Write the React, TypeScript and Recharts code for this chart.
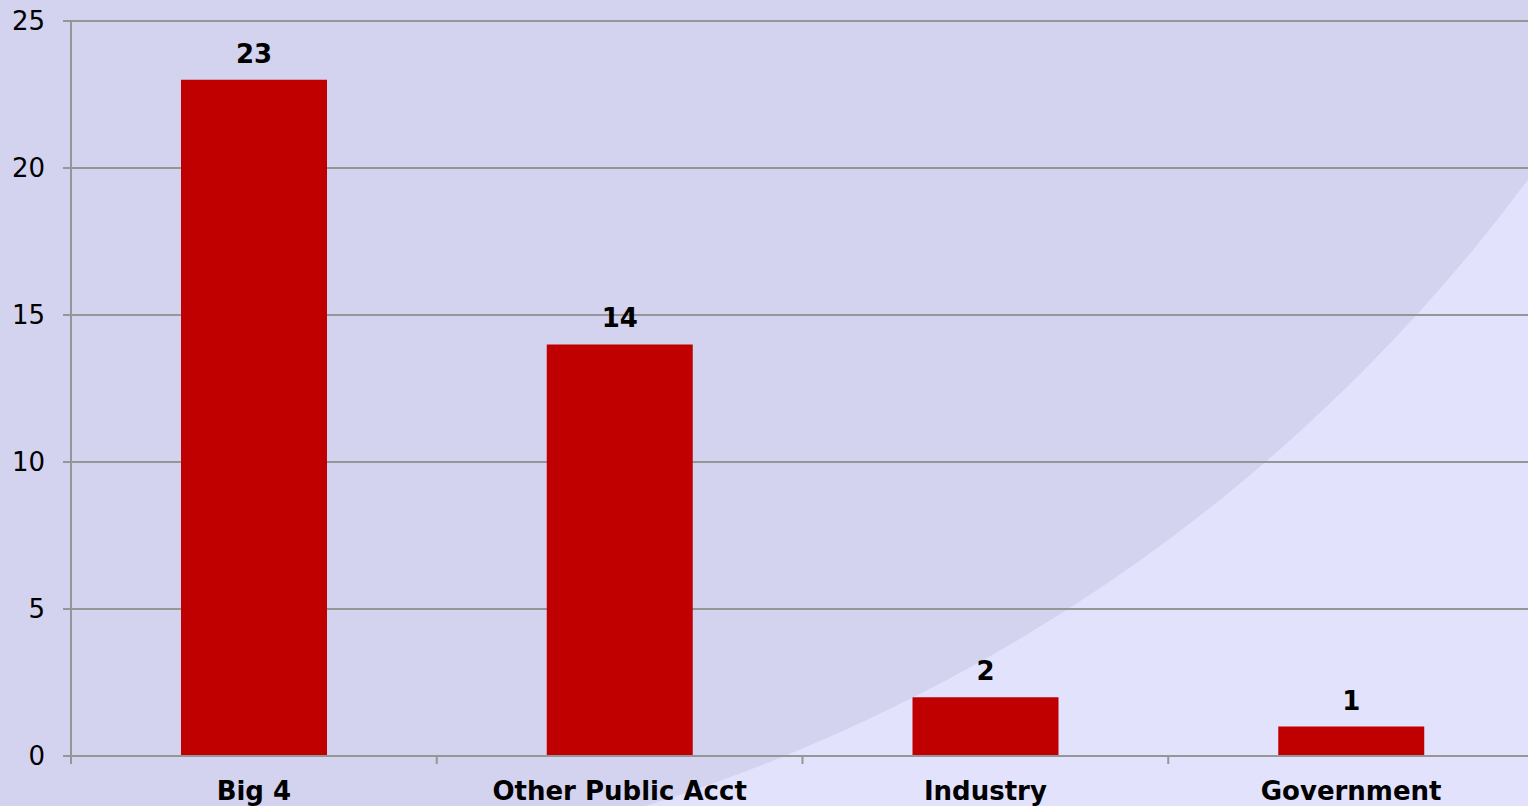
import React from "react";
import { BarChart, Bar, XAxis, YAxis, CartesianGrid, LabelList } from "recharts";

const categories = ["Big 4", "Other Public Acct", "Industry", "Government"];
const counts = [23, 14, 2, 1];
const yTicks = [0, 5, 10, 15, 20, 25];
const boundaryTicks = [0, 1, 2, 3, 4];

const data = categories.map((name, i) => ({ name, value: counts[i], pos: i + 0.5 }));

const FONT = "'DejaVu Sans', Verdana, sans-serif";

export default function App() {
  return (
    <div
      style={{
        position: "absolute",
        left: 0,
        top: 0,
        width: 1528,
        height: 806,
        overflow: "hidden",
        background: "#e2e2fc",
        fontFamily: FONT,
      }}
    >
      <svg width={1528} height={806} style={{ position: "absolute", left: 0, top: 0 }}>
        <rect x={0} y={0} width={1528} height={806} fill="#e2e2fc" />
        <circle cx={126} cy={-861} r={1746} fill="#d3d3ef" />
      </svg>
      <div style={{ position: "absolute", left: 0, top: 0 }}>
        <BarChart
          width={1540}
          height={806}
          data={data}
          margin={{ top: 21, right: 6, bottom: 0, left: 0 }}
          style={{ fontFamily: FONT }}
        >
          <CartesianGrid vertical={false} stroke="#969696" strokeWidth={2} />
          <XAxis
            xAxisId="z"
            dataKey="name"
            height={49}
            axisLine={false}
            tickLine={false}
            tickSize={8}
            tickMargin={17}
            interval={0}
            tick={{ fill: "#000", fontSize: 26, fontWeight: "bold", fontFamily: FONT }}
          />
          <XAxis
            xAxisId="a"
            type="number"
            dataKey="pos"
            domain={[0, 4]}
            ticks={boundaryTicks}
            interval={0}
            height={1}
            axisLine={{ stroke: "#969696", strokeWidth: 2 }}
            tickLine={{ stroke: "#969696", strokeWidth: 2 }}
            tickSize={8}
            tickFormatter={() => ""}
            tick={{ fontSize: 1 }}
          />
          <YAxis
            width={71}
            domain={[0, 25]}
            ticks={yTicks}
            interval={0}
            axisLine={{ stroke: "#969696", strokeWidth: 2 }}
            tickLine={{ stroke: "#969696", strokeWidth: 2 }}
            tickSize={8}
            tickMargin={18}
            tick={{ fill: "#000", fontSize: 26, fontFamily: FONT }}
          />
          <Bar xAxisId="z" dataKey="value" fill="#c00000" barSize={146} isAnimationActive={false}>
            <LabelList
              dataKey="value"
              position="top"
              offset={17}
              fill="#000"
              fontSize={26}
              fontWeight="bold"
              fontFamily={FONT}
            />
          </Bar>
        </BarChart>
      </div>
    </div>
  );
}
